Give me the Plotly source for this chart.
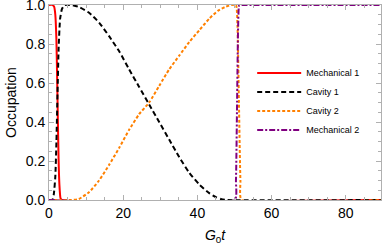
import plotly.graph_objects as go

# Mechanical 1
t_m1 = [0, 1.0, 1.4, 1.7, 2.0, 2.2, 2.4, 2.6, 2.8, 3.1, 3.5, 90]
y_m1 = [1, 1, 0.99, 0.95, 0.82, 0.62, 0.40, 0.20, 0.08, 0.01, 0, 0]

# Cavity 1
t_c1 = [0, 0.9, 1.3, 1.7, 2.0, 2.3, 2.6, 3.0, 3.5, 4.2, 6, 8, 10.8, 13.5, 16.2, 19, 21.6,
        24.3, 27, 29.7, 32.4, 35.1, 37.8, 40.5, 43.2, 45, 46.5, 48, 90]
y_c1 = [0, 0, 0.03, 0.12, 0.30, 0.55, 0.78, 0.93, 0.98, 1.0, 1.0, 0.99, 0.96, 0.91, 0.84, 0.76,
        0.67, 0.58, 0.49, 0.40, 0.31, 0.22, 0.14, 0.08, 0.035, 0.015, 0.004, 0, 0]

# Cavity 2
t_c2 = [0, 6, 8, 10.8, 13.5, 16.2, 19, 21.6, 24.3, 27, 29.7, 32.4, 35.1, 37.8, 40.5, 43.2,
        45.5, 47.5, 49.2, 50.4, 50.8, 51.2, 51.6, 51.9, 90]
y_c2 = [0, 0, 0.005, 0.04, 0.10, 0.18, 0.27, 0.36, 0.44, 0.50, 0.585, 0.67, 0.74, 0.81, 0.87,
        0.93, 0.97, 0.99, 1.0, 1.0, 0.9, 0.5, 0.1, 0, 0]

# Mechanical 2
t_m2 = [0, 50.1, 50.4, 50.7, 51.0, 51.3, 52, 90]
y_m2 = [0, 0, 0.1, 0.5, 0.9, 1.0, 1.0, 1.0]

x_ticks = [0, 20, 40, 60, 80]
y_ticks = [0, 0.2, 0.4, 0.6, 0.8, 1.0]

names = ["Mechanical 1", "Cavity 1", "Cavity 2", "Mechanical 2"]
colors = ["#ff0000", "#000000", "#ff8000", "#800080"]
dashes = ["solid", "5px,3px", "3px,2px", "6px,2px,2px,2px"]

fig = go.Figure()
series = [(t_m1, y_m1), (t_c1, y_c1), (t_c2, y_c2), (t_m2, y_m2)]
for (tx, ty), n, c, d in zip(series, names, colors, dashes):
    fig.add_trace(go.Scatter(x=tx, y=ty, mode="lines", name=n,
                             line=dict(color=c, width=2, dash=d, shape="spline", smoothing=0.5)))

FONT = "Liberation Sans, Arial"
axis_common = dict(
    showline=True, linecolor="#b0b0b0", linewidth=1, mirror="allticks",
    ticks="inside", ticklen=5, tickcolor="#b0b0b0", tickwidth=1,
    showgrid=False, zeroline=False, automargin=False, ticklabeloverflow="allow",
    tickfont=dict(family=FONT, size=14, color="#000000"),
)

fig.update_xaxes(range=[0, 89.5], tickvals=x_ticks,
                 minor=dict(ticks="inside", ticklen=3, tickcolor="#b0b0b0", dtick=5, tick0=0),
                 title=dict(text="<i>G</i><sub>0</sub><i>t</i>", standoff=13,
                            font=dict(family=FONT, size=14, color="#000")),
                 **axis_common)
fig.update_yaxes(range=[0, 1], tickvals=y_ticks, tickformat=".1f",
                 minor=dict(ticks="inside", ticklen=3, tickcolor="#b0b0b0", dtick=0.05, tick0=0),
                 title=dict(text="Occupation", standoff=5,
                            font=dict(family=FONT, size=14, color="#000")),
                 **axis_common)

fig.update_layout(
    width=382, height=245,
    margin=dict(l=49, r=1, t=5, b=45),
    plot_bgcolor="white", paper_bgcolor="white",
    legend=dict(x=0.612, y=0.726, xanchor="left", yanchor="top", itemwidth=44,
                bgcolor="rgba(0,0,0,0)", tracegroupgap=0,
                font=dict(family=FONT, size=9, color="#000")),
)

fig.write_html("out.html", config={"displayModeBar": False},
               post_script="document.body.style.margin='0';")
